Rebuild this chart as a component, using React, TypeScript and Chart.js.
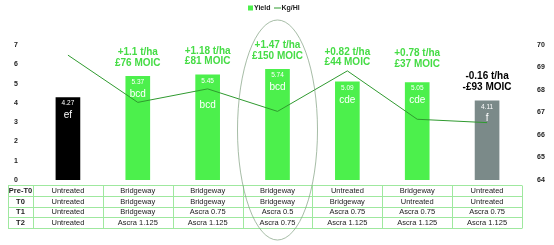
import React, { useEffect, useRef } from "react";
import { Chart, registerables } from "chart.js";

Chart.register(...registerables);

const categories = ["Untreated", "Programme 2", "Programme 3", "Programme 4", "Programme 5", "Programme 6", "Programme 7"];
const yieldValues = [4.27, 5.37, 5.45, 5.74, 5.09, 5.05, 4.11];
const kgHlValues = [69.55, 67.45, 68.05, 67.05, 68.85, 66.7, 66.55];
const groupLetters = ["ef", "bcd", "bcd", "bcd", "cde", "cde", "f"];
const yieldDiff = ["", "+1.1 t/ha", "+1.18 t/ha", "+1.47 t/ha", "+0.82 t/ha", "+0.78 t/ha", "-0.16 t/ha"];
const moicText = ["", "£76 MOIC", "£81 MOIC", "£150 MOIC", "£44 MOIC", "£37 MOIC", "-£93 MOIC"];
const rowLabels = ["Pre-T0", "T0", "T1", "T2"];
const preT0 = ["Untreated", "Bridgeway", "Bridgeway", "Bridgeway", "Untreated", "Bridgeway", "Untreated"];
const t0 = ["Untreated", "Bridgeway", "Bridgeway", "Bridgeway", "Bridgeway", "Untreated", "Untreated"];
const t1 = ["Untreated", "Bridgeway", "Ascra 0.75", "Ascra 0.5", "Ascra 0.75", "Ascra 0.75", "Ascra 0.75"];
const t2 = ["Untreated", "Ascra 1.125", "Ascra 1.125", "Ascra 0.75", "Ascra 1.125", "Ascra 1.125", "Ascra 1.125"];
const yieldAxisMin = 0;
const yieldAxisMax = 7;
const kgAxisMin = 64;
const kgAxisMax = 70;

const FONT = "'Liberation Sans', Arial, Helvetica, sans-serif";
const barColors = ["#000000", "#4cf04c", "#4cf04c", "#4cf04c", "#4cf04c", "#4cf04c", "#7b8a89"];
const diffColors = ["#000", "#45dc45", "#45dc45", "#45dc45", "#45dc45", "#45dc45", "#000000"];
const lineColor = "#2f9a2f";

const overlayPlugin = {
  id: "overlay",
  afterDatasetsDraw(chart: any) {
    const ctx = chart.ctx;
    const meta = chart.getDatasetMeta(1);
    ctx.save();
    ctx.textAlign = "center";
    ctx.textBaseline = "middle";
    const letterExtra = [0, 0, 12, 0, 0, 0, 0];
    const annLift = [0, 0, 0, 0, 6, 5, 0];
    meta.data.forEach((bar: any, i: number) => {
      const x = bar.x;
      const top = bar.y;
      ctx.fillStyle = "#ffffff";
      ctx.font = `6.5px ${FONT}`;
      ctx.fillText(yieldValues[i].toFixed(2), x, top + 6);
      ctx.font = `10px ${FONT}`;
      ctx.fillText(groupLetters[i], x, top + 18 + letterExtra[i]);
      if (yieldDiff[i]) {
        ctx.fillStyle = diffColors[i];
        ctx.font = `bold 10px ${FONT}`;
        ctx.fillText(yieldDiff[i], x, top - 24 - annLift[i]);
        ctx.fillText(moicText[i], x, top - 13.5 - annLift[i]);
      }
    });
    ctx.restore();
  },
  afterDraw(chart: any) {
    const ctx = chart.ctx;
    const xs = chart.scales.x;
    const area = chart.chartArea;
    ctx.save();
    // legend
    const ly = 8;
    ctx.fillStyle = "#4cf04c";
    ctx.fillRect(248, ly - 2.5, 5, 5);
    ctx.font = `bold 7px ${FONT}`;
    ctx.textBaseline = "middle";
    ctx.textAlign = "left";
    ctx.fillStyle = "#222";
    ctx.fillText("Yield", 254, ly);
    ctx.strokeStyle = lineColor;
    ctx.lineWidth = 1;
    ctx.beginPath();
    ctx.moveTo(274, ly);
    ctx.lineTo(281, ly);
    ctx.stroke();
    ctx.fillText("Kg/Hl", 281.5, ly);

    // table
    const half = (xs.getPixelForValue(1) - xs.getPixelForValue(0)) / 2;
    const cols: number[] = [8, area.left];
    for (let i = 0; i < categories.length; i++) cols.push(xs.getPixelForValue(i) + half);
    const rowTop = 185;
    const rowH = 10.75;
    const rows = [preT0, t0, t1, t2];
    ctx.strokeStyle = "#9fe89f";
    ctx.lineWidth = 1;
    ctx.beginPath();
    for (let r = 0; r <= rows.length; r++) {
      const y = Math.round(rowTop + r * rowH) + 0.5;
      ctx.moveTo(cols[0], y);
      ctx.lineTo(cols[cols.length - 1], y);
    }
    cols.forEach((c) => {
      const x = Math.round(c) + 0.5;
      ctx.moveTo(x, rowTop + 0.5);
      ctx.lineTo(x, Math.round(rowTop + rows.length * rowH) + 0.5);
    });
    ctx.stroke();
    ctx.textAlign = "center";
    ctx.fillStyle = "#222";
    rows.forEach((row, r) => {
      const y = rowTop + r * rowH + rowH / 2 + 0.5;
      ctx.font = `bold 7.5px ${FONT}`;
      ctx.fillText(rowLabels[r], (cols[0] + cols[1]) / 2, y);
      ctx.font = `7.5px ${FONT}`;
      row.forEach((txt, i) => {
        ctx.fillText(txt, (cols[i + 1] + cols[i + 2]) / 2, y);
      });
    });

    // ellipse around highlighted programme
    const ex = xs.getPixelForValue(3);
    ctx.strokeStyle = "#7f9f7f";
    ctx.lineWidth = 0.7;
    ctx.beginPath();
    ctx.ellipse(ex, 130, 40, 110, 0, 0, Math.PI * 2);
    ctx.stroke();
    ctx.restore();
  },
};

export default function App() {
  const ref = useRef<HTMLCanvasElement | null>(null);
  useEffect(() => {
    if (!ref.current) return;
    const chart = new Chart(ref.current, {
      type: "bar",
      data: {
        labels: categories,
        datasets: [
          {
            type: "line",
            label: "Kg/Hl",
            data: kgHlValues,
            yAxisID: "y1",
            borderColor: lineColor,
            backgroundColor: lineColor,
            borderWidth: 1,
            pointRadius: 0,
            tension: 0,
            order: 0,
          } as any,
          {
            type: "bar",
            label: "Yield",
            data: yieldValues,
            yAxisID: "y",
            backgroundColor: barColors,
            barThickness: 24,
            order: 1,
          },
        ],
      },
      options: {
        animation: false,
        responsive: false,
        maintainAspectRatio: false,
        layout: { padding: { left: 0, right: 0, top: 45, bottom: 65 } },
        plugins: { legend: { display: false }, tooltip: { enabled: false } },
        scales: {
          x: { display: false, offset: true },
          y: {
            position: "left",
            min: yieldAxisMin,
            max: yieldAxisMax,
            grid: { display: false },
            border: { display: false },
            ticks: { stepSize: 1, padding: 7, color: "#222", font: { family: FONT, size: 7, weight: "bold" } },
            afterFit: (s: any) => { s.width = 33; },
          },
          y1: {
            position: "right",
            min: kgAxisMin,
            max: kgAxisMax,
            grid: { display: false },
            border: { display: false },
            ticks: { stepSize: 1, padding: 7, color: "#222", font: { family: FONT, size: 7, weight: "bold" } },
            afterFit: (s: any) => { s.width = 32; },
          },
        },
      } as any,
      plugins: [overlayPlugin],
    });
    return () => chart.destroy();
  }, []);
  return (
    <div style={{ position: "absolute", left: 0, top: 0, width: 554, height: 245, background: "#fff" }}>
      <canvas ref={ref} width={554} height={245} style={{ width: 554, height: 245, display: "block" }} />
    </div>
  );
}
